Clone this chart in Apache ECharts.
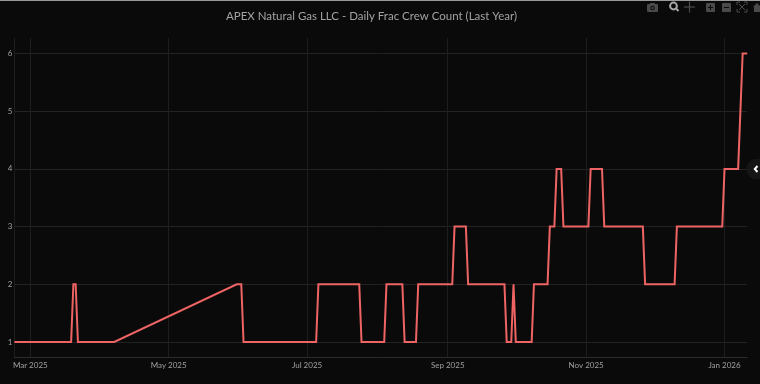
<!DOCTYPE html>
<html>
<head>
<meta charset="utf-8">
<style>html,body{margin:0;padding:0;background:#0a0a0a;overflow:hidden}#c{width:760px;height:384px}</style>
<script src="https://cdn.jsdelivr.net/npm/echarts@6/dist/echarts.min.js"></script>
</head>
<body>
<div id="c"></div>
<script>
const titleText = "APEX Natural Gas LLC - Daily Frac Crew Count (Last Year)";
const dates = ["2025-02-22","2025-03-19","2025-03-20","2025-03-21","2025-03-22","2025-04-07","2025-05-31","2025-06-02","2025-06-03","2025-07-05","2025-07-06","2025-07-24","2025-07-25","2025-08-04","2025-08-05","2025-08-12","2025-08-13","2025-08-18","2025-08-19","2025-09-03","2025-09-04","2025-09-09","2025-09-10","2025-09-26","2025-09-27","2025-09-29","2025-09-30","2025-10-01","2025-10-08","2025-10-09","2025-10-15","2025-10-16","2025-10-18","2025-10-19","2025-10-21","2025-10-22","2025-11-02","2025-11-03","2025-11-08","2025-11-09","2025-11-26","2025-11-27","2025-12-10","2025-12-11","2025-12-31","2026-01-01","2026-01-07","2026-01-09","2026-01-11"];
const crews = [1,1,2,2,1,1,2,2,1,1,2,2,1,1,2,2,1,1,2,2,3,3,2,2,1,1,2,1,1,2,2,3,3,4,4,3,3,4,4,3,3,2,2,3,3,4,4,6,6];
const xTicks = ["2025-03-01","2025-05-01","2025-07-01","2025-09-01","2025-11-01","2026-01-01"];
const xTickLabels = ["Mar 2025","May 2025","Jul 2025","Sep 2025","Nov 2025","Jan 2026"];
const yTicks = [1,2,3,4,5,6];

const ts = s => Date.parse(s + "T00:00:00Z");
const xVals = xTicks.map(ts);
const font = 'Lato, sans-serif';
const iconC = '#4a4a4a';

const chart = echarts.init(document.getElementById('c'), null, {renderer:'canvas'});
chart.setOption({
  animation:false,
  backgroundColor:'#0a0a0a',
  title:{text:titleText,left:366.5,top:5,textAlign:'center',textStyle:{color:'#a3a3a3',fontSize:11.5,fontWeight:'normal',fontFamily:font}},
  grid:{left:14.4,right:12.8,top:38,bottom:26.5,containLabel:false},
  xAxis:{
    type:'value',min:ts(dates[0]),max:ts(dates[dates.length-1]),
    axisLine:{show:true,onZero:false,lineStyle:{color:'#2b2b2b',width:1}},
    axisTick:{show:false,customValues:xVals},
    axisLabel:{customValues:xVals,color:'#a0a0a0',fontSize:8,fontFamily:font,margin:4,hideOverlap:false,showMinLabel:true,showMaxLabel:true,
      formatter:v=>xTickLabels[xVals.indexOf(v)] ?? ''},
    splitLine:{show:true,lineStyle:{color:'#1e1e1e',width:1}}
  },
  yAxis:{
    type:'value',min:0.731,max:6.269,
    axisLine:{show:true,onZero:false,lineStyle:{color:'#1e1e1e',width:1}},
    axisTick:{show:false,customValues:yTicks},
    axisLabel:{customValues:yTicks,color:'#a0a0a0',fontSize:8,fontFamily:font,margin:2,showMinLabel:true,showMaxLabel:true,padding:[2,0,0,0]},
    splitLine:{show:true,lineStyle:{color:'#222222',width:1}}
  },
  series:[{type:'line',data:dates.map((d,i)=>[ts(d),crews[i]]),showSymbol:false,symbol:'none',lineStyle:{color:'#ee6464',width:2,join:'miter'},clip:false}],
  graphic:[
    {type:'rect',shape:{x:0,y:0,width:760,height:1},style:{fill:'#9a9a9a'},silent:true},
    {type:'rect',shape:{x:647,y:4,width:11,height:8,r:1},style:{fill:iconC}},
    {type:'rect',shape:{x:650,y:3,width:5,height:2},style:{fill:iconC}},
    {type:'circle',shape:{cx:652.5,cy:8,r:2.2},style:{fill:'#0a0a0a'}},
    {type:'circle',shape:{cx:652.5,cy:8,r:1.2},style:{fill:iconC}},
    {type:'circle',shape:{cx:673.5,cy:6,r:3.4},style:{fill:'none',stroke:'#a8a8a8',lineWidth:2}},
    {type:'line',shape:{x1:676,y1:8.5,x2:678.5,y2:11},style:{stroke:'#a8a8a8',lineWidth:2}},
    {type:'line',shape:{x1:684,y1:7,x2:695,y2:7},style:{stroke:iconC,lineWidth:1.2}},
    {type:'line',shape:{x1:689.5,y1:1.5,x2:689.5,y2:12.5},style:{stroke:iconC,lineWidth:1.2}},
    {type:'rect',shape:{x:706,y:3,width:9,height:9,r:1},style:{fill:iconC}},
    {type:'line',shape:{x1:708,y1:7.5,x2:713,y2:7.5},style:{stroke:'#0a0a0a',lineWidth:1}},
    {type:'line',shape:{x1:710.5,y1:5,x2:710.5,y2:10},style:{stroke:'#0a0a0a',lineWidth:1}},
    {type:'rect',shape:{x:722,y:3,width:9,height:9,r:1},style:{fill:iconC}},
    {type:'line',shape:{x1:724,y1:7.5,x2:729,y2:7.5},style:{stroke:'#0a0a0a',lineWidth:1}},
    {type:'polyline',shape:{points:[[737,5],[737,2],[740,2]]},style:{stroke:iconC,fill:'none',lineWidth:1}},
    {type:'polyline',shape:{points:[[744,2],[747,2],[747,5]]},style:{stroke:iconC,fill:'none',lineWidth:1}},
    {type:'polyline',shape:{points:[[737,9],[737,12],[740,12]]},style:{stroke:iconC,fill:'none',lineWidth:1}},
    {type:'polyline',shape:{points:[[744,12],[747,12],[747,9]]},style:{stroke:iconC,fill:'none',lineWidth:1}},
    {type:'line',shape:{x1:739,y1:4,x2:745,y2:10},style:{stroke:iconC,lineWidth:1}},
    {type:'line',shape:{x1:745,y1:4,x2:739,y2:10},style:{stroke:iconC,lineWidth:1}},
    {type:'polygon',shape:{points:[[753,7],[757,3],[760,6],[760,12],[754,12],[754,7]]},style:{fill:iconC}},
    {type:'circle',shape:{cx:757,cy:169,r:10.5},style:{fill:'#151515'}},
    {type:'polyline',shape:{points:[[757.5,166],[754.8,169],[757.5,172]]},style:{stroke:'#ffffff',fill:'none',lineWidth:2}}
  ]
});
</script>
</body>
</html>
